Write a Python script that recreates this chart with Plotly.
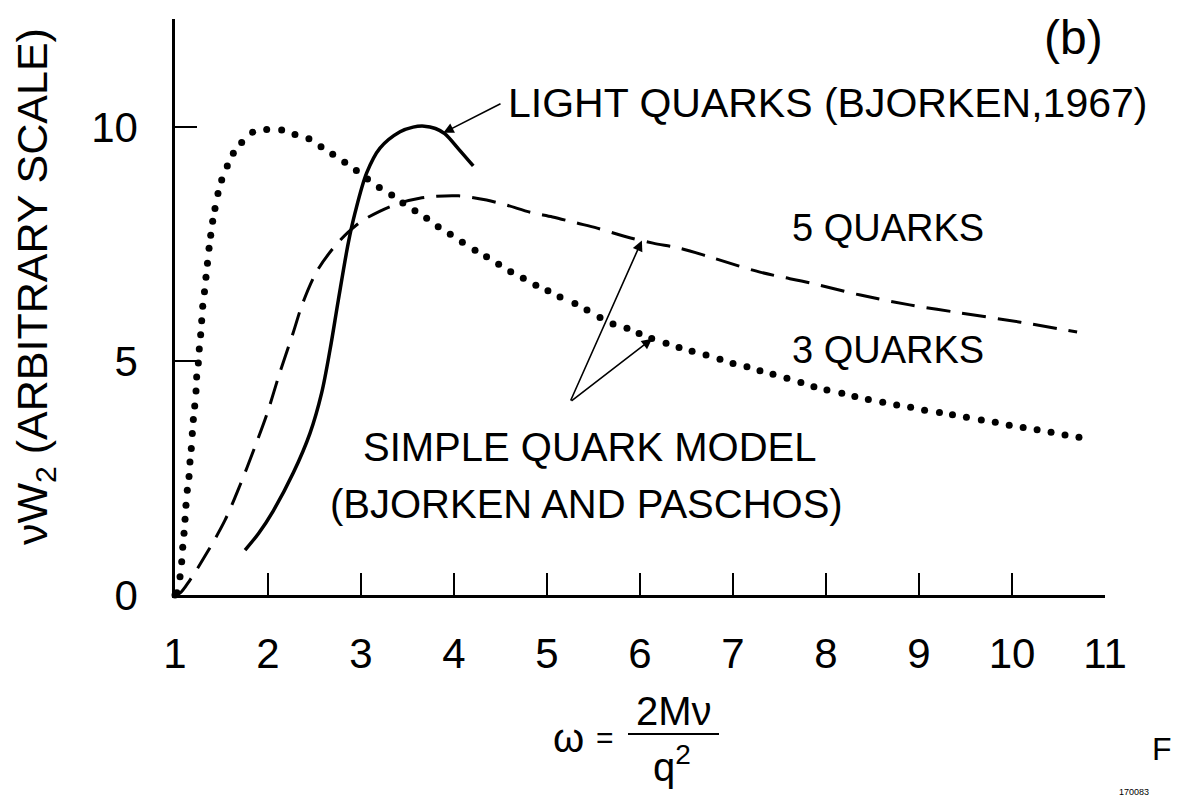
import numpy as np
import plotly.graph_objects as go

# ---- data: nu*W2 (arbitrary scale) vs omega = 2M nu / q^2 ----
# Simple quark model, 3 quarks (dotted curve; one entry per dot)
omega_3q = [1.0, 1.02, 1.054, 1.072, 1.083, 1.097, 1.108, 1.118, 1.132, 1.151, 1.161,
            1.175, 1.186, 1.197, 1.212, 1.226, 1.233, 1.251, 1.261, 1.276, 1.287,
            1.298, 1.317, 1.333, 1.349, 1.366, 1.384, 1.405, 1.43, 1.462, 1.502,
            1.562, 1.627, 1.717, 1.835, 1.986, 2.147, 2.29, 2.44, 2.57, 2.696,
            2.825, 2.95, 3.07, 3.197, 3.33, 3.45, 3.58, 3.706, 3.83, 3.96, 4.09,
            4.226, 4.35, 4.48, 4.61, 4.745, 4.88, 5.01, 5.14, 5.30, 5.43, 5.57,
            5.71, 5.86, 5.99, 6.126, 6.28, 6.42, 6.56, 6.71, 6.86, 7.0, 7.15,
            7.29, 7.43, 7.58, 7.73, 7.87, 8.01, 8.17, 8.31, 8.455, 8.61, 8.76,
            8.91, 9.06, 9.22, 9.36, 9.51, 9.67, 9.82, 9.97, 10.12, 10.27, 10.42,
            10.57, 10.72]
w2_3q = [0.0, 0.05, 0.39, 0.71, 1.02, 1.32, 1.62, 1.92, 2.24, 2.53, 2.84,
         3.13, 3.45, 3.75, 4.04, 4.36, 4.66, 4.96, 5.26, 5.56, 5.86,
         6.17, 6.48, 6.79, 7.09, 7.41, 7.69, 7.99, 8.26, 8.58, 8.87,
         9.17, 9.44, 9.67, 9.89, 9.95, 9.94, 9.84, 9.75, 9.58, 9.42,
         9.25, 9.07, 8.89, 8.71, 8.55, 8.38, 8.21, 8.05, 7.87, 7.71, 7.54,
         7.37, 7.23, 7.07, 6.91, 6.77, 6.62, 6.50, 6.37, 6.23, 6.09, 5.93,
         5.79, 5.70, 5.59, 5.48, 5.38, 5.29, 5.21, 5.13, 5.04, 4.95, 4.88,
         4.79, 4.72, 4.63, 4.54, 4.45, 4.38, 4.31, 4.24, 4.18, 4.12, 4.06,
         4.01, 3.95, 3.90, 3.85, 3.80, 3.74, 3.69, 3.63, 3.58, 3.53, 3.48,
         3.42, 3.37]

# Simple quark model, 5 quarks (dashed curve)
omega_5q = [1.0, 1.054, 1.161, 1.34, 1.538, 1.70, 1.86, 1.986, 2.13, 2.27, 2.37,
            2.52, 2.70, 2.86, 3.0, 3.20, 3.42, 3.63, 3.80, 4.05, 4.35, 4.57,
            4.82, 5.06, 5.32, 5.54, 5.86, 6.14, 6.43, 6.76, 7.29, 7.83, 8.37,
            8.90, 9.44, 10.09, 10.70]
w2_5q = [0.0, 0.04, 0.32, 0.89, 1.60, 2.35, 3.17, 3.85, 4.77, 5.60, 6.22,
         6.90, 7.41, 7.75, 7.98, 8.20, 8.38, 8.48, 8.52, 8.53, 8.44, 8.33,
         8.18, 8.08, 7.95, 7.84, 7.65, 7.52, 7.41, 7.22, 6.90, 6.67, 6.41,
         6.20, 6.03, 5.83, 5.62]

# Light quarks, Bjorken 1967 (solid curve)
omega_lq = [1.753, 1.90, 2.057, 2.272, 2.452, 2.577, 2.667, 2.756, 2.863, 2.935, 3.061,
            3.204, 3.42, 3.56, 3.68, 3.80, 3.90, 4.05, 4.207]
w2_lq = [0.96, 1.32, 1.80, 2.61, 3.46, 4.32, 5.24, 6.30, 7.52, 8.16, 9.02,
         9.55, 9.90, 10.0, 10.02, 9.97, 9.86, 9.53, 9.17]

x_ticks = [1, 2, 3, 4, 5, 6, 7, 8, 9, 10, 11]
y_ticks = [0, 5, 10]

# ---- page geometry (pixels) ----
W, H = 1177, 803
PL, PR, PT, PB = 175, 1105, 19, 595   # plot box
X_RANGE = [1, 11]
Y_RANGE = [0, 12.31]

FONT = "Liberation Sans, Arial, sans-serif"


def paper(xp, yp):
    """pixel position -> paper coordinates"""
    return (xp - PL) / (PR - PL), (PB - yp) / (PB - PT)


def to_data(xp, yp):
    """pixel position -> data coordinates"""
    return (X_RANGE[0] + (xp - PL) / (PR - PL) * (X_RANGE[1] - X_RANGE[0]),
            Y_RANGE[0] + (PB - yp) / (PB - PT) * (Y_RANGE[1] - Y_RANGE[0]))


fig = go.Figure()

fig.add_trace(go.Scatter(
    x=omega_3q, y=w2_3q, mode="markers",
    marker=dict(size=7, color="black"),
    cliponaxis=False, showlegend=False, hoverinfo="skip"))

fig.add_trace(go.Scatter(
    x=omega_5q, y=w2_5q, mode="lines",
    line=dict(color="black", width=3, dash="24px,12px", shape="spline", smoothing=0.9),
    showlegend=False, hoverinfo="skip"))

fig.add_trace(go.Scatter(
    x=omega_lq, y=w2_lq, mode="lines",
    line=dict(color="black", width=3.5, shape="spline", smoothing=0.9),
    showlegend=False, hoverinfo="skip"))

annotations = []


def label(text, xp, yp, size, anchor="left", angle=0):
    px_, py_ = paper(xp, yp)
    annotations.append(dict(
        text=text, x=px_, y=py_, xref="paper", yref="paper",
        xanchor=anchor, yanchor="middle", showarrow=False, textangle=angle,
        font=dict(family=FONT, size=size, color="black")))


label("(b)", 1073, 37, 48, anchor="center")
label("LIGHT QUARKS (BJORKEN,1967)", 506, 103, 41)
label("5 QUARKS", 790, 228, 38)
label("3 QUARKS", 790, 350, 38)
label("SIMPLE QUARK MODEL", 361, 447, 40)
label("(BJORKEN AND PASCHOS)", 328, 504, 40)
label("νW<sub>2</sub> (ARBITRARY SCALE)", 35, 287, 43, anchor="center", angle=-90)

# axis title written as a fraction: omega = 2M nu / q^2
label("ω", 568, 738, 40, anchor="center")
label("=", 605, 737, 30, anchor="center")
label("2Mν", 674, 711, 40, anchor="center")
label("q<sup>2</sup>", 672, 764, 40, anchor="center")

# figure number fragments at the page corner
label("F", 1174, 749, 32, anchor="right")
label("170083", 1134, 792, 9, anchor="center")


def arrow(head, tail):
    annotations.append(dict(
        text="", x=head[0], y=head[1], ax=tail[0], ay=tail[1],
        xref="x", yref="y", axref="x", ayref="y",
        showarrow=True, arrowhead=2, arrowsize=1.3, arrowwidth=1.6,
        arrowcolor="black", standoff=0, startstandoff=0))


w_head = 3.885
arrow((w_head, float(np.interp(w_head, omega_lq, w2_lq))), to_data(502, 103))
w_head = 6.02
arrow((w_head, float(np.interp(w_head, omega_5q, w2_5q))), to_data(570, 402))
w_head = 6.13
arrow((w_head, float(np.interp(w_head, omega_3q, w2_3q))), to_data(570, 402))

fb0, fby = paper(628, 734)
fb1, _ = paper(719, 734)
shapes = [dict(type="line", xref="paper", yref="paper", x0=fb0, x1=fb1, y0=fby, y1=fby,
               line=dict(color="black", width=2))]

fig.update_layout(
    width=W, height=H,
    margin=dict(l=PL, r=W - PR, t=PT, b=H - PB, pad=0),
    paper_bgcolor="white", plot_bgcolor="white",
    font=dict(family=FONT, color="black"),
    annotations=annotations, shapes=shapes,
    xaxis=dict(range=X_RANGE, tickvals=x_ticks, ticktext=[str(v) for v in x_ticks],
               ticks="inside", ticklen=22, tickwidth=2, tickcolor="black",
               showline=True, linecolor="black", linewidth=2.5,
               showgrid=False, zeroline=False, ticklabelstandoff=20,
               tickfont=dict(family=FONT, size=42, color="black")),
    yaxis=dict(range=Y_RANGE, tickvals=y_ticks, ticktext=[str(v) for v in y_ticks],
               ticks="inside", ticklen=22, tickwidth=2, tickcolor="black",
               showline=True, linecolor="black", linewidth=2.5,
               showgrid=False, zeroline=False, ticklabelstandoff=26,
               tickfont=dict(family=FONT, size=42, color="black")),
)

fig.write_html("out.html")
